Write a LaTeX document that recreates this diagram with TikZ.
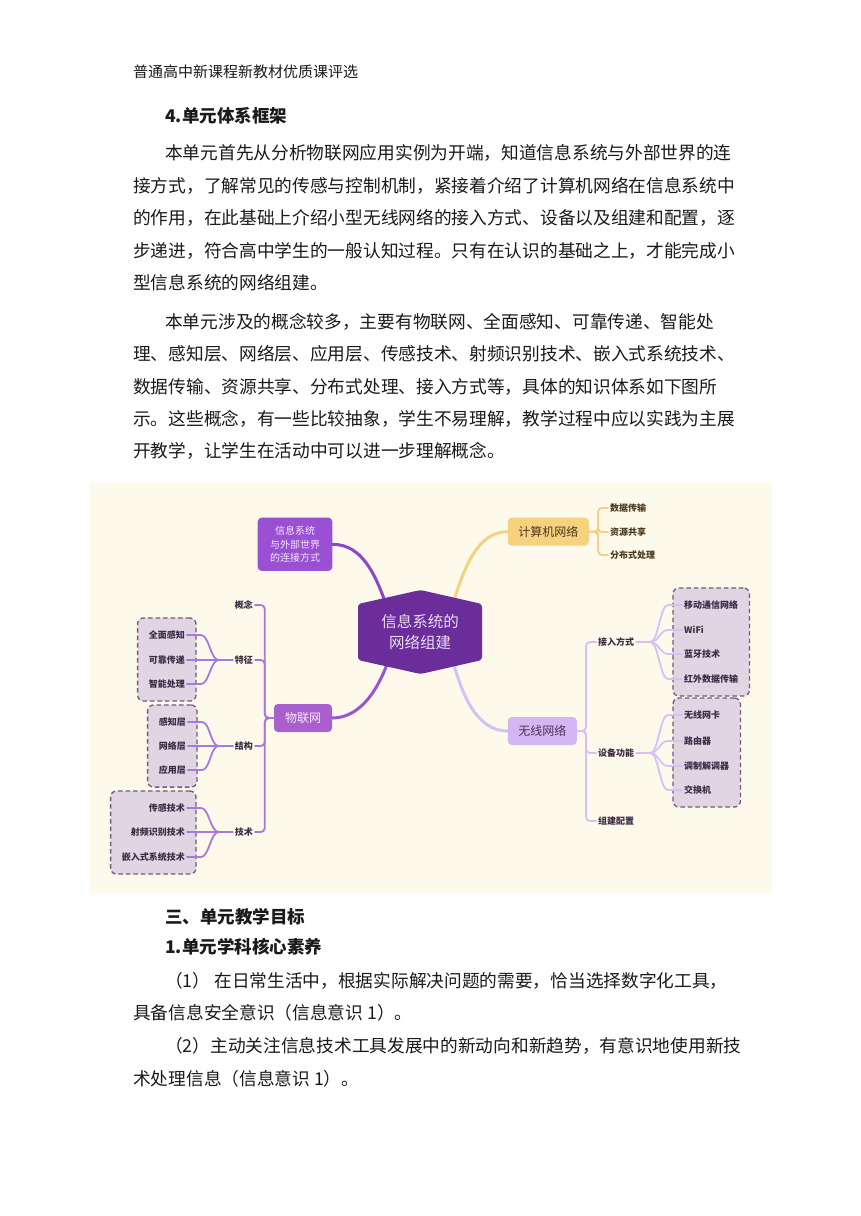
\documentclass[tikz,border=0pt]{standalone}
\usepackage{fontspec}
\setmainfont{Noto Sans CJK SC}
\usetikzlibrary{calc,fit}
\pgfdeclarelayer{bg}
\pgfdeclarelayer{boxes}
\pgfdeclarelayer{lines}
\pgfsetlayers{bg,boxes,lines,main}
\definecolor{bgcream}{HTML}{FDF9EB}
\definecolor{hubcol}{HTML}{6B2D9A}
\definecolor{hubtext}{HTML}{EADAF3}
\definecolor{extfill}{HTML}{9A50D2}
\definecolor{exttext}{HTML}{F3E6FA}
\definecolor{extln}{HTML}{8E46C8}
\definecolor{iotfill}{HTML}{A960CC}
\definecolor{iottext}{HTML}{F5E9FA}
\definecolor{iotln}{HTML}{9A55D0}
\definecolor{iotsub}{HTML}{A878DE}
\definecolor{cnetfill}{HTML}{F6D27F}
\definecolor{cnettext}{HTML}{4A3A1E}
\definecolor{cnetln}{HTML}{F4D184}
\definecolor{wfill}{HTML}{D6B5F3}
\definecolor{wtext}{HTML}{4B3358}
\definecolor{wln}{HTML}{D9C0F2}
\definecolor{dashfill}{HTML}{E2D5E3}
\definecolor{dashcol}{HTML}{725A7A}
\definecolor{labcol}{HTML}{3D2B45}
\definecolor{ylab}{HTML}{4D3B1F}
\definecolor{bodytext}{HTML}{1A1A1A}
\tikzset{
  bodyline/.style={anchor=west, inner sep=0pt, text=bodytext, font=\fontsize{17.7}{20}\selectfont},
  headline/.style={anchor=west, inner sep=0pt, text=bodytext, font=\fontsize{17.5}{20}\selectfont\bfseries},
  mainbox/.style={rounded corners=4pt, inner sep=0pt, minimum height=28pt, font=\fontsize{12}{14}\selectfont},
  lbl/.style={inner sep=2pt, font=\fontsize{9}{10}\selectfont\bfseries, text=labcol},
  ylbl/.style={inner sep=2pt, font=\fontsize{9}{10}\selectfont\bfseries, text=ylab},
  dbox/.style={draw=dashcol, dash pattern=on 4.5pt off 3pt, line width=1.3pt, fill=dashfill, rounded corners=6pt, inner xsep=9pt, inner ysep=10.5pt},
  mainln/.style={line width=3pt, line cap=round},
  subln/.style={line width=1.8pt, line cap=round, rounded corners=4pt},
}
\begin{document}
\begin{tikzpicture}[x=1pt,y=-1pt]
\useasboundingbox (0,0) rectangle (860,1216);
\begin{pgfonlayer}{bg}
\fill[white] (0,0) rectangle (860,1216);
\fill[bgcream] (90,483) rectangle (772,893);
\end{pgfonlayer}

% ---------- text above ----------
\node[anchor=west, inner sep=0pt, text=bodytext, font=\fontsize{15}{18}\selectfont] (hdr) at (133,72) {普通高中新课程新教材优质课评选};
\node[headline] (h1) at (165,116) {4.单元体系框架};
\node[bodyline] (p1a) at (165,153) {本单元首先从分析物联网应用实例为开端，知道信息系统与外部世界的连};
\node[bodyline] (p1b) at (133,186) {接方式，了解常见的传感与控制机制，紧接着介绍了计算机网络在信息系统中};
\node[bodyline] (p1c) at (133,218) {的作用，在此基础上介绍小型无线网络的接入方式、设备以及组建和配置，逐};
\node[bodyline] (p1d) at (133,251) {步递进，符合高中学生的一般认知过程。只有在认识的基础之上，才能完成小};
\node[bodyline] (p1e) at (133,283) {型信息系统的网络组建。};
\node[bodyline] (p2a) at (165,322) {本单元涉及的概念较多，主要有物联网、全面感知、可靠传递、智能处};
\node[bodyline] (p2b) at (133,354) {理、感知层、网络层、应用层、传感技术、射频识别技术、嵌入式系统技术、};
\node[bodyline] (p2c) at (133,387) {数据传输、资源共享、分布式处理、接入方式等，具体的知识体系如下图所};
\node[bodyline] (p2d) at (133,419) {示。这些概念，有一些比较抽象，学生不易理解，教学过程中应以实践为主展};
\node[bodyline] (p2e) at (133,451) {开教学，让学生在活动中可以进一步理解概念。};

% ---------- text below ----------
\node[headline] (h2) at (165,917) {三、单元教学目标};
\node[headline] (h3) at (165,947) {1.单元学科核心素养};
\node[bodyline] (q1a) at (165,981) {（1） 在日常生活中，根据实际解决问题的需要，恰当选择数字化工具，};
\node[bodyline] (q1b) at (133,1013) {具备信息安全意识（信息意识 1）。};
\node[bodyline] (q2a) at (165,1046) {（2）主动关注信息技术工具发展中的新动向和新趋势，有意识地使用新技};
\node[bodyline] (q2b) at (133,1079) {术处理信息（信息意识 1）。};

% ---------- diagram ----------
% hub
\fill[hubcol, rounded corners=3pt] (358,604) -- (420.5,590) -- (482,604) -- (482,660) -- (420.5,674) -- (358,660) -- cycle;
\node[align=center, inner sep=0pt, minimum width=124pt, minimum height=84pt, text=hubtext, font=\fontsize{15.5}{20.5}\selectfont] (hub) at (420,632) {信息系统的\\网络组建};

% main boxes
\node[mainbox, fill=extfill, text=exttext, minimum width=74.6pt, minimum height=53.3pt, align=center, font=\fontsize{10}{13.3}\selectfont] (ext) at (295,544.3) {信息系统\\与外部世界\\的连接方式};
\node[mainbox, fill=iotfill, text=iottext, minimum width=58pt] (iot) at (303,718) {物联网};
\node[mainbox, fill=cnetfill, text=cnettext, minimum width=81pt] (cnet) at (548.3,531.7) {计算机网络};
\node[mainbox, fill=wfill, text=wtext, minimum width=69pt] (wnet) at (542.3,731) {无线网络};

% IoT level 2
\node[lbl, anchor=east] (gn) at (255,605) {概念};
\node[lbl, anchor=east] (tz) at (255,660) {特征};
\node[lbl, anchor=east] (jg) at (255,746) {结构};
\node[lbl, anchor=east] (js) at (255,832) {技术};

% IoT level 3
\node[lbl, anchor=east] (tz1) at (187,635) {全面感知};
\node[lbl, anchor=east] (tz2) at (187,660) {可靠传递};
\node[lbl, anchor=east] (tz3) at (187,684) {智能处理};
\node[lbl, anchor=east] (jg1) at (188,722) {感知层};
\node[lbl, anchor=east] (jg2) at (188,746) {网络层};
\node[lbl, anchor=east] (jg3) at (188,770) {应用层};
\node[lbl, anchor=east] (js1) at (187,808) {传感技术};
\node[lbl, anchor=east] (js2) at (187,832) {射频识别技术};
\node[lbl, anchor=east] (js3) at (187,857) {嵌入式系统技术};

% computer network children
\node[ylbl, anchor=west] (cn1) at (608,508) {数据传输};
\node[ylbl, anchor=west] (cn2) at (608,532) {资源共享};
\node[ylbl, anchor=west] (cn3) at (608,555) {分布式处理};

% wireless level 2
\node[lbl, anchor=west] (jr) at (596,642) {接入方式};
\node[lbl, anchor=west] (sb) at (596,753) {设备功能};
\node[lbl, anchor=west] (zj) at (596,821) {组建配置};

% wireless level 3
\node[lbl, anchor=west] (jr1) at (682,605) {移动通信网络};
\node[lbl, anchor=west] (jr2) at (682,630) {WiFi};
\node[lbl, anchor=west] (jr3) at (682,654) {蓝牙技术};
\node[lbl, anchor=west] (jr4) at (682,679) {红外数据传输};
\node[lbl, anchor=west] (sb1) at (682,715) {无线网卡};
\node[lbl, anchor=west] (sb2) at (682,741) {路由器};
\node[lbl, anchor=west] (sb3) at (682,766) {调制解调器};
\node[lbl, anchor=west] (sb4) at (682,790) {交换机};

% dashed group boxes
\begin{pgfonlayer}{boxes}
\node[dbox, fit=(tz1)(tz3)] (gtz) {};
\node[dbox, fit=(jg1)(jg3)] (gjg) {};
\node[dbox, fit=(js1)(js3)] (gjs) {};
\node[dbox, fit=(jr1)(jr4)] (gjr) {};
\node[dbox, fit=(sb1)(sb3)(sb4)] (gsb) {};
\end{pgfonlayer}

% connectors
\begin{pgfonlayer}{lines}
\draw[mainln, extln] (ext.east) .. controls +(30,0) and +(-12,-35) .. ($(hub.center)+(-32,-22)$);
\draw[mainln, iotln] (iot.east) .. controls +(30,0) and +(-10,30) .. ($(hub.center)+(-30,24)$);
\draw[mainln, cnetln] ($(hub.center)+(32,-25)$) .. controls +(12,-40) and +(-30,0) .. (cnet.west);
\draw[mainln, wln] ($(hub.center)+(32,25)$) .. controls +(10,40) and +(-30,0) .. (wnet.west);

\foreach \c in {gn,tz,jg,js}
  \draw[subln, iotsub] (iot.west) -- ++(-9,0) |- (\c.east);
\foreach \c in {tz1,tz2,tz3}
  \draw[subln, iotsub] (tz.west) -- ++(-10,0) .. controls +(-12,0) and +(12,0) .. ($(\c.east)+(10,0)$) -- (\c.east);
\foreach \c in {jg1,jg2,jg3}
  \draw[subln, iotsub] (jg.west) -- ++(-10,0) .. controls +(-12,0) and +(12,0) .. ($(\c.east)+(10,0)$) -- (\c.east);
\foreach \c in {js1,js2,js3}
  \draw[subln, iotsub] (js.west) -- ++(-10,0) .. controls +(-12,0) and +(12,0) .. ($(\c.east)+(10,0)$) -- (\c.east);

\foreach \c in {cn1,cn2,cn3}
  \draw[subln, cnetln] (cnet.east) -- ++(9,0) |- (\c.west);

\foreach \c in {jr,sb,zj}
  \draw[subln, wln] (wnet.east) -- ++(9,0) |- (\c.west);
\foreach \c in {jr1,jr2,jr3,jr4}
  \draw[subln, wln] (jr.east) -- ++(10,0) .. controls +(12,0) and +(-12,0) .. ($(\c.west)+(-10,0)$) -- (\c.west);
\foreach \c in {sb1,sb2,sb3,sb4}
  \draw[subln, wln] (sb.east) -- ++(10,0) .. controls +(12,0) and +(-12,0) .. ($(\c.west)+(-10,0)$) -- (\c.west);
\end{pgfonlayer}
\end{tikzpicture}
\end{document}
